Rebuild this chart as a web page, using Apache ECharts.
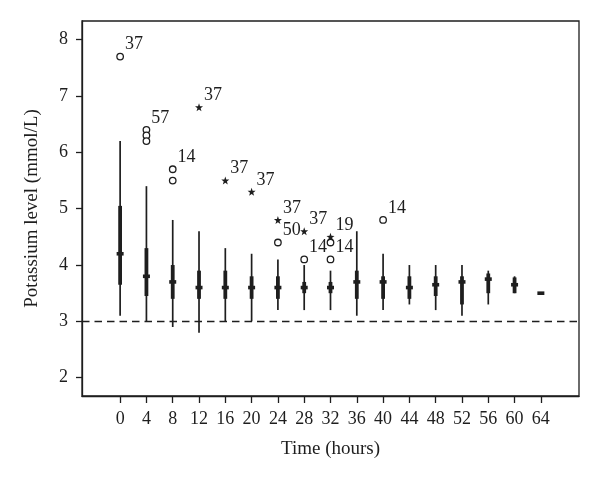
<!DOCTYPE html>
<html>
<head>
<meta charset="utf-8">
<script src="https://cdn.jsdelivr.net/npm/echarts@6/dist/echarts.min.js"></script>
<style>html,body{margin:0;padding:0;background:#fff}#c{width:600px;height:484px}</style>
</head>
<body>
<div id="c"></div>
<script>
// ---- data ----
const hours = [0,4,8,12,16,20,24,28,32,36,40,44,48,52,56,60,64];
const whiskerLow  = [3.1,3.0,2.9,2.8,3.0,3.0,3.2,3.2,3.2,3.1,3.2,3.3,3.2,3.1,3.3,3.5,3.5];
const q1          = [3.65,3.45,3.4,3.4,3.4,3.4,3.4,3.5,3.5,3.4,3.4,3.4,3.45,3.3,3.5,3.5,3.5];
const median      = [4.2,3.8,3.7,3.6,3.6,3.6,3.6,3.6,3.6,3.7,3.7,3.6,3.65,3.7,3.75,3.65,3.5];
const q3          = [5.05,4.3,4.0,3.9,3.9,3.8,3.8,3.7,3.7,3.9,3.8,3.8,3.8,3.8,3.85,3.78,3.5];
const whiskerHigh = [6.2,5.4,4.8,4.6,4.3,4.2,4.1,4.0,3.9,4.6,4.2,4.0,4.0,4.0,3.9,3.8,3.5];

const circleX     = [0,4,4,4,8,8,24,28,32,32,40];
const circleY     = [7.7,6.4,6.3,6.2,5.7,5.5,4.4,4.1,4.4,4.1,4.8];
const circleLabel = ['37','57','','','14','','50','14','','14','14'];

const starX     = [12,16,20,24,28,32];
const starY     = [6.8,5.5,5.3,4.8,4.6,4.5];
const starLabel = ['37','37','37','37','37','19'];

const yTicks = [2,3,4,5,6,7,8];
const refLevel = 3;

// ---- build ----
const boxData = hours.map((h,i)=>[h, whiskerLow[i], q1[i], median[i], q3[i], whiskerHigh[i]]);
const circleData = circleX.map((x,i)=>({value:[x,circleY[i]], name:circleLabel[i]}));
const starData = starX.map((x,i)=>({value:[x,starY[i]], name:starLabel[i]}));

const INK = '#1e1e1e';
const FONT = '"Liberation Serif","DejaVu Serif",serif';

const labelStyle = {
  show:true, position:'right', distance:1, offset:[0,-12],
  formatter:'{b}', color:INK, opacity:1, fontFamily:FONT, fontSize:18
};

const chart = echarts.init(document.getElementById('c'), null, {renderer:'canvas'});
chart.setOption({
  animation:false,
  backgroundColor:'#fff',
  grid:{left:82, top:21, right:21, bottom:88, show:true, borderColor:INK, borderWidth:1.3, backgroundColor:'transparent'},
  xAxis:{
    type:'value', min:-5.8, max:69.8,
    splitLine:{show:false},
    axisLine:{show:true, onZero:false, lineStyle:{color:INK, width:1.3}},
    axisTick:{show:true, length:7, customValues:hours, lineStyle:{color:INK, width:1.3}},
    axisLabel:{customValues:hours, margin:14, color:INK, fontFamily:FONT, fontSize:18},
    name:'Time (hours)', nameLocation:'middle', nameGap:44,
    nameTextStyle:{color:INK, fontFamily:FONT, fontSize:19}
  },
  yAxis:{
    type:'value', min:1.675, max:8.332,
    splitLine:{show:false},
    axisLine:{show:true, onZero:false, lineStyle:{color:INK, width:1.3}},
    axisTick:{show:true, length:6, customValues:yTicks, lineStyle:{color:INK, width:1.3}},
    axisLabel:{customValues:yTicks, margin:14, color:INK, fontFamily:FONT, fontSize:18},
    name:'Potassium level (mmol/L)', nameLocation:'middle', nameGap:40,
    nameTextStyle:{color:INK, fontFamily:FONT, fontSize:19}
  },
  series:[
    {
      type:'custom',
      data:boxData,
      encode:{x:0, y:[1,2,3,4,5]},
      renderItem:function(params, api){
        const x = api.value(0);
        const pLow = api.coord([x, api.value(1)]);
        const pQ1 = api.coord([x, api.value(2)]);
        const pMed = api.coord([x, api.value(3)]);
        const pQ3 = api.coord([x, api.value(4)]);
        const pHigh = api.coord([x, api.value(5)]);
        const bw = 3.8, mw = 7, mh = 3.6;
        return {
          type:'group',
          children:[
            {type:'line', shape:{x1:pLow[0], y1:pLow[1], x2:pHigh[0], y2:pHigh[1]},
             style:{stroke:INK, lineWidth:1.7}},
            {type:'rect', shape:{x:pQ3[0]-bw/2, y:pQ3[1], width:bw, height:Math.max(pQ1[1]-pQ3[1],0)},
             style:{fill:INK}},
            {type:'rect', shape:{x:pMed[0]-mw/2, y:pMed[1]-mh/2, width:mw, height:mh},
             style:{fill:INK}}
          ]
        };
      },
      markLine:{
        silent:true, symbol:['none','none'], label:{show:false},
        lineStyle:{color:INK, width:1.4, type:[7.5,5], opacity:1},
        data:[{yAxis:refLevel}]
      },
      z:3
    },
    {
      type:'scatter',
      data:circleData,
      symbol:'circle', symbolSize:6.5,
      itemStyle:{color:'#fff', borderColor:INK, borderWidth:1.3, opacity:1},
      label:labelStyle,
      z:4
    },
    {
      type:'scatter',
      data:starData,
      symbol:'path://M0,-10 L2.35,-3.24 9.51,-3.09 3.8,1.24 5.88,8.09 0,4 -5.88,8.09 -3.8,1.24 -9.51,-3.09 -2.35,-3.24Z',
      symbolSize:8,
      itemStyle:{color:INK, opacity:1},
      label:labelStyle,
      z:4
    }
  ]
});
</script>
</body>
</html>
